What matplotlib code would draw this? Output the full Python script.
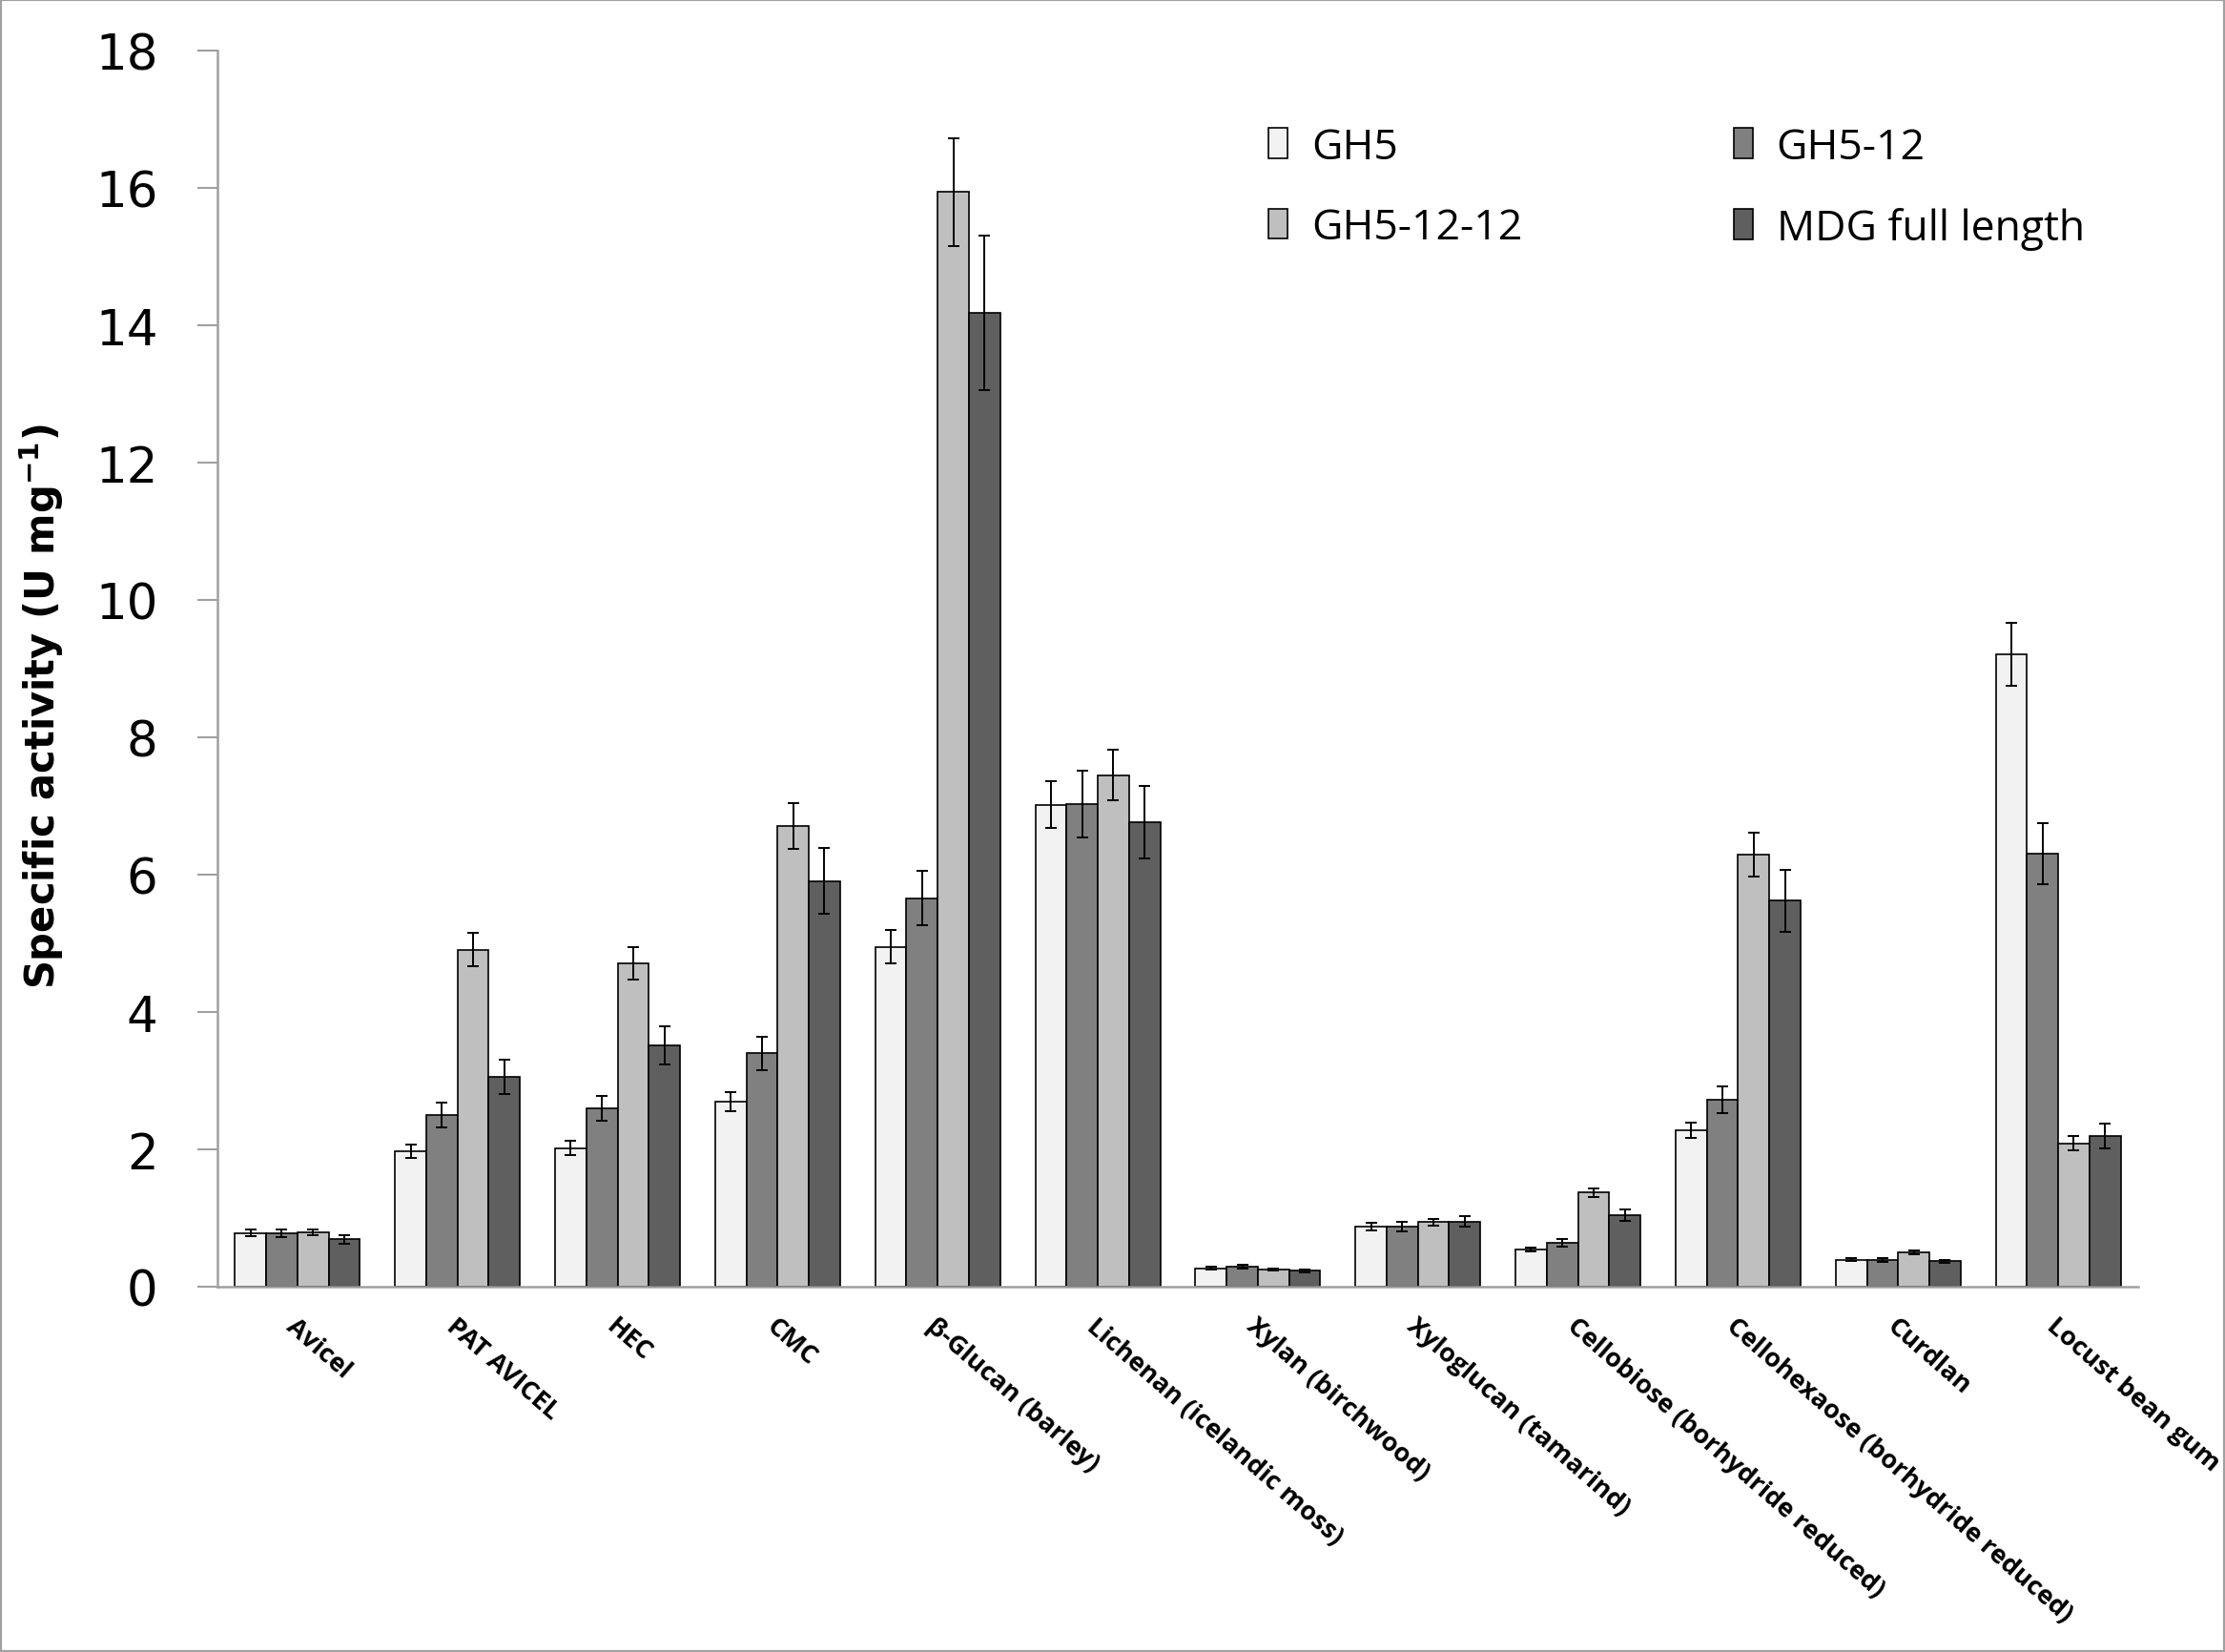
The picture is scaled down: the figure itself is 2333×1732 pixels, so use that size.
import numpy as np
import matplotlib
matplotlib.use("Agg")
import matplotlib.pyplot as plt
from matplotlib import font_manager
from matplotlib.patches import Rectangle

# substrates on the x axis
categories = ["Avicel", "PAT AVICEL", "HEC", "CMC", "β-Glucan (barley)",
              "Lichenan (icelandic moss)", "Xylan (birchwood)", "Xyloglucan (tamarind)",
              "Cellobiose (borhydride reduced)", "Cellohexaose (borhydride reduced)",
              "Curdlan", "Locust bean gum"]

series_names = ["GH5", "GH5-12", "GH5-12-12", "MDG full length"]

# specific activity (U mg-1)
gh5 = [0.78, 1.97, 2.02, 2.70, 4.95, 7.02, 0.27, 0.875, 0.54, 2.28, 0.39, 9.21]
gh5_12 = [0.78, 2.50, 2.60, 3.40, 5.66, 7.03, 0.29, 0.875, 0.64, 2.72, 0.39, 6.31]
gh5_12_12 = [0.79, 4.91, 4.71, 6.71, 15.94, 7.45, 0.245, 0.94, 1.37, 6.29, 0.50, 2.09]
mdg = [0.69, 3.05, 3.51, 5.91, 14.18, 6.76, 0.23, 0.95, 1.04, 5.62, 0.37, 2.20]

# error bars
gh5_err = [0.05, 0.10, 0.105, 0.14, 0.24, 0.34, 0.02, 0.05, 0.03, 0.11, 0.02, 0.46]
gh5_12_err = [0.06, 0.18, 0.18, 0.245, 0.39, 0.49, 0.025, 0.067, 0.05, 0.19, 0.025, 0.445]
gh5_12_12_err = [0.045, 0.245, 0.24, 0.335, 0.79, 0.37, 0.015, 0.05, 0.067, 0.32, 0.03, 0.11]
mdg_err = [0.06, 0.25, 0.28, 0.48, 1.13, 0.53, 0.02, 0.08, 0.085, 0.45, 0.025, 0.18]

colors = ["#F2F2F2", "#808080", "#BFBFBF", "#5F5F5F"]

installed = {f.name for f in font_manager.fontManager.ttflist}
if "Liberation Sans Narrow" in installed:
    ylab_family, ylab_size = "Liberation Sans Narrow", 35
else:
    ylab_family, ylab_size = "DejaVu Sans", 30

fig = plt.figure(figsize=(23.33, 17.33), dpi=100)
ax = fig.add_axes([0.0977, 0.221, 0.8633, 0.7478])

x = np.arange(len(categories))
width = 0.195
values = [gh5, gh5_12, gh5_12_12, mdg]
errors = [gh5_err, gh5_12_err, gh5_12_12_err, mdg_err]

bars = []
for i, (vals, errs) in enumerate(zip(values, errors)):
    pos = x + (i - 1.5) * width
    b = ax.bar(pos, vals, width, color=colors[i], edgecolor="black",
               linewidth=1.2, label=series_names[i], zorder=2)
    ax.errorbar(pos, vals, yerr=errs, fmt="none", ecolor="black",
                elinewidth=1.4, capsize=4, capthick=1.4, zorder=3)
    bars.append(b)

ax.set_xlim(-0.5, len(categories) - 0.5)
ax.set_ylim(0, 18)
ax.set_yticks(np.arange(0, 19, 2))
ax.tick_params(axis="y", length=15, width=1.5, color="#A0A0A0", pad=30,
               labelsize=37)
for lab in ax.get_yticklabels():
    lab.set_family("DejaVu Sans")

ax.set_xticks(x)
ax.set_xticklabels(categories, rotation=-41, ha="left", va="top",
                   rotation_mode="anchor", fontsize=19.5, fontweight="bold",
                   family="Open Sans")
ax.tick_params(axis="x", length=0, pad=20)

for side in ["top", "right"]:
    ax.spines[side].set_visible(False)
for side in ["left", "bottom"]:
    ax.spines[side].set_color("#A0A0A0")
    ax.spines[side].set_linewidth(1.8)

ax.set_ylabel(r"Specific activity (U mg$^{\mathregular{-1}}$)",
              family=ylab_family, fontsize=ylab_size, fontweight="bold")
ax.yaxis.set_label_coords(-0.079, 0.47)

handles = [bars[0], bars[2], bars[1], bars[3]]
labels = [series_names[0], series_names[2], series_names[1], series_names[3]]
ax.legend(handles, labels, ncol=2, loc="upper left",
          bbox_to_anchor=(0.5607, 0.936), bbox_transform=fig.transFigure,
          frameon=False, borderpad=0, prop={"family": "Open Sans", "size": 32},
          handlelength=0.45, handleheight=0.72, handletextpad=0.55,
          columnspacing=5.0, labelspacing=0.9)

fig.patches.append(Rectangle((0, 0), 1, 1, transform=fig.transFigure,
                             fill=False, edgecolor="#A0A0A0", linewidth=3))

fig.savefig("out.png", dpi=100)
